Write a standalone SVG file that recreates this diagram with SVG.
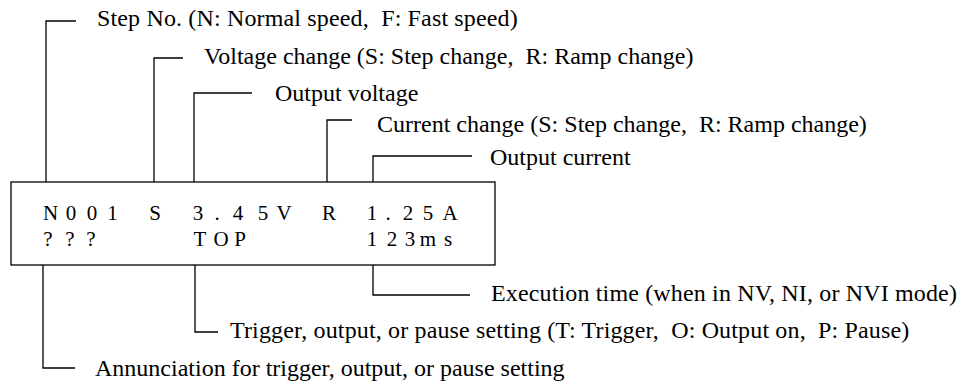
<svg xmlns="http://www.w3.org/2000/svg" width="959" height="385" viewBox="0 0 959 385">
<style>
.bg{fill:#fff}
.ln{fill:none;stroke:#000;stroke-width:1.3}
.lbl{font-family:"Liberation Serif","Times New Roman",serif;font-size:24px;fill:#000;white-space:pre}
.wide{letter-spacing:0.15px}
.disp{font-family:"Liberation Serif","Times New Roman",serif;font-size:21px;fill:#000;text-anchor:middle}
</style>
<rect class="bg" x="0" y="0" width="959" height="385"/>
<g id="display">
<rect class="ln" x="11" y="182" width="484" height="83"/>
<text class="disp" y="220" x="50.5 71 92 112.5 134 155 176 198 217 238 263 284 306 329 350 372 388 408 428 450">N001 S 3.45V R 1.25A</text>
<text class="disp" y="246" x="48 70 91 145 200 221 240 306 372 392 410 428 448">??? TOP 123ms</text>
</g>
<g id="connectors">
<polyline class="ln" points="76,21 46,21 46,182"/>
<polyline class="ln" points="183,58 154,58 154,182"/>
<polyline class="ln" points="252,93 194,93 194,182"/>
<polyline class="ln" points="352,120 327,120 327,182"/>
<polyline class="ln" points="472,156 373,156 373,182"/>
<polyline class="ln" points="373,265 373,295 470,295"/>
<polyline class="ln" points="195,265 195,332 218,332"/>
<polyline class="ln" points="43,265 43,368 75,368"/>
</g>
<g id="label-step"><text class="lbl wide" x="97" y="26">Step No. (N: Normal speed,  F: Fast speed)</text></g>
<g id="label-vchange"><text class="lbl" x="204" y="64">Voltage change (S: Step change,  R: Ramp change)</text></g>
<g id="label-vout"><text class="lbl" x="275" y="101">Output voltage</text></g>
<g id="label-cchange"><text class="lbl" x="377" y="132">Current change (S: Step change,  R: Ramp change)</text></g>
<g id="label-cout"><text class="lbl" x="490" y="165">Output current</text></g>
<g id="label-exec"><text class="lbl wide" x="491" y="301">Execution time (when in NV, NI, or NVI mode)</text></g>
<g id="label-trigger"><text class="lbl wide" x="230" y="338">Trigger, output, or pause setting (T: Trigger,  O: Output on,  P: Pause)</text></g>
<g id="label-annunc"><text class="lbl" x="95" y="376">Annunciation for trigger, output, or pause setting</text></g>
</svg>
